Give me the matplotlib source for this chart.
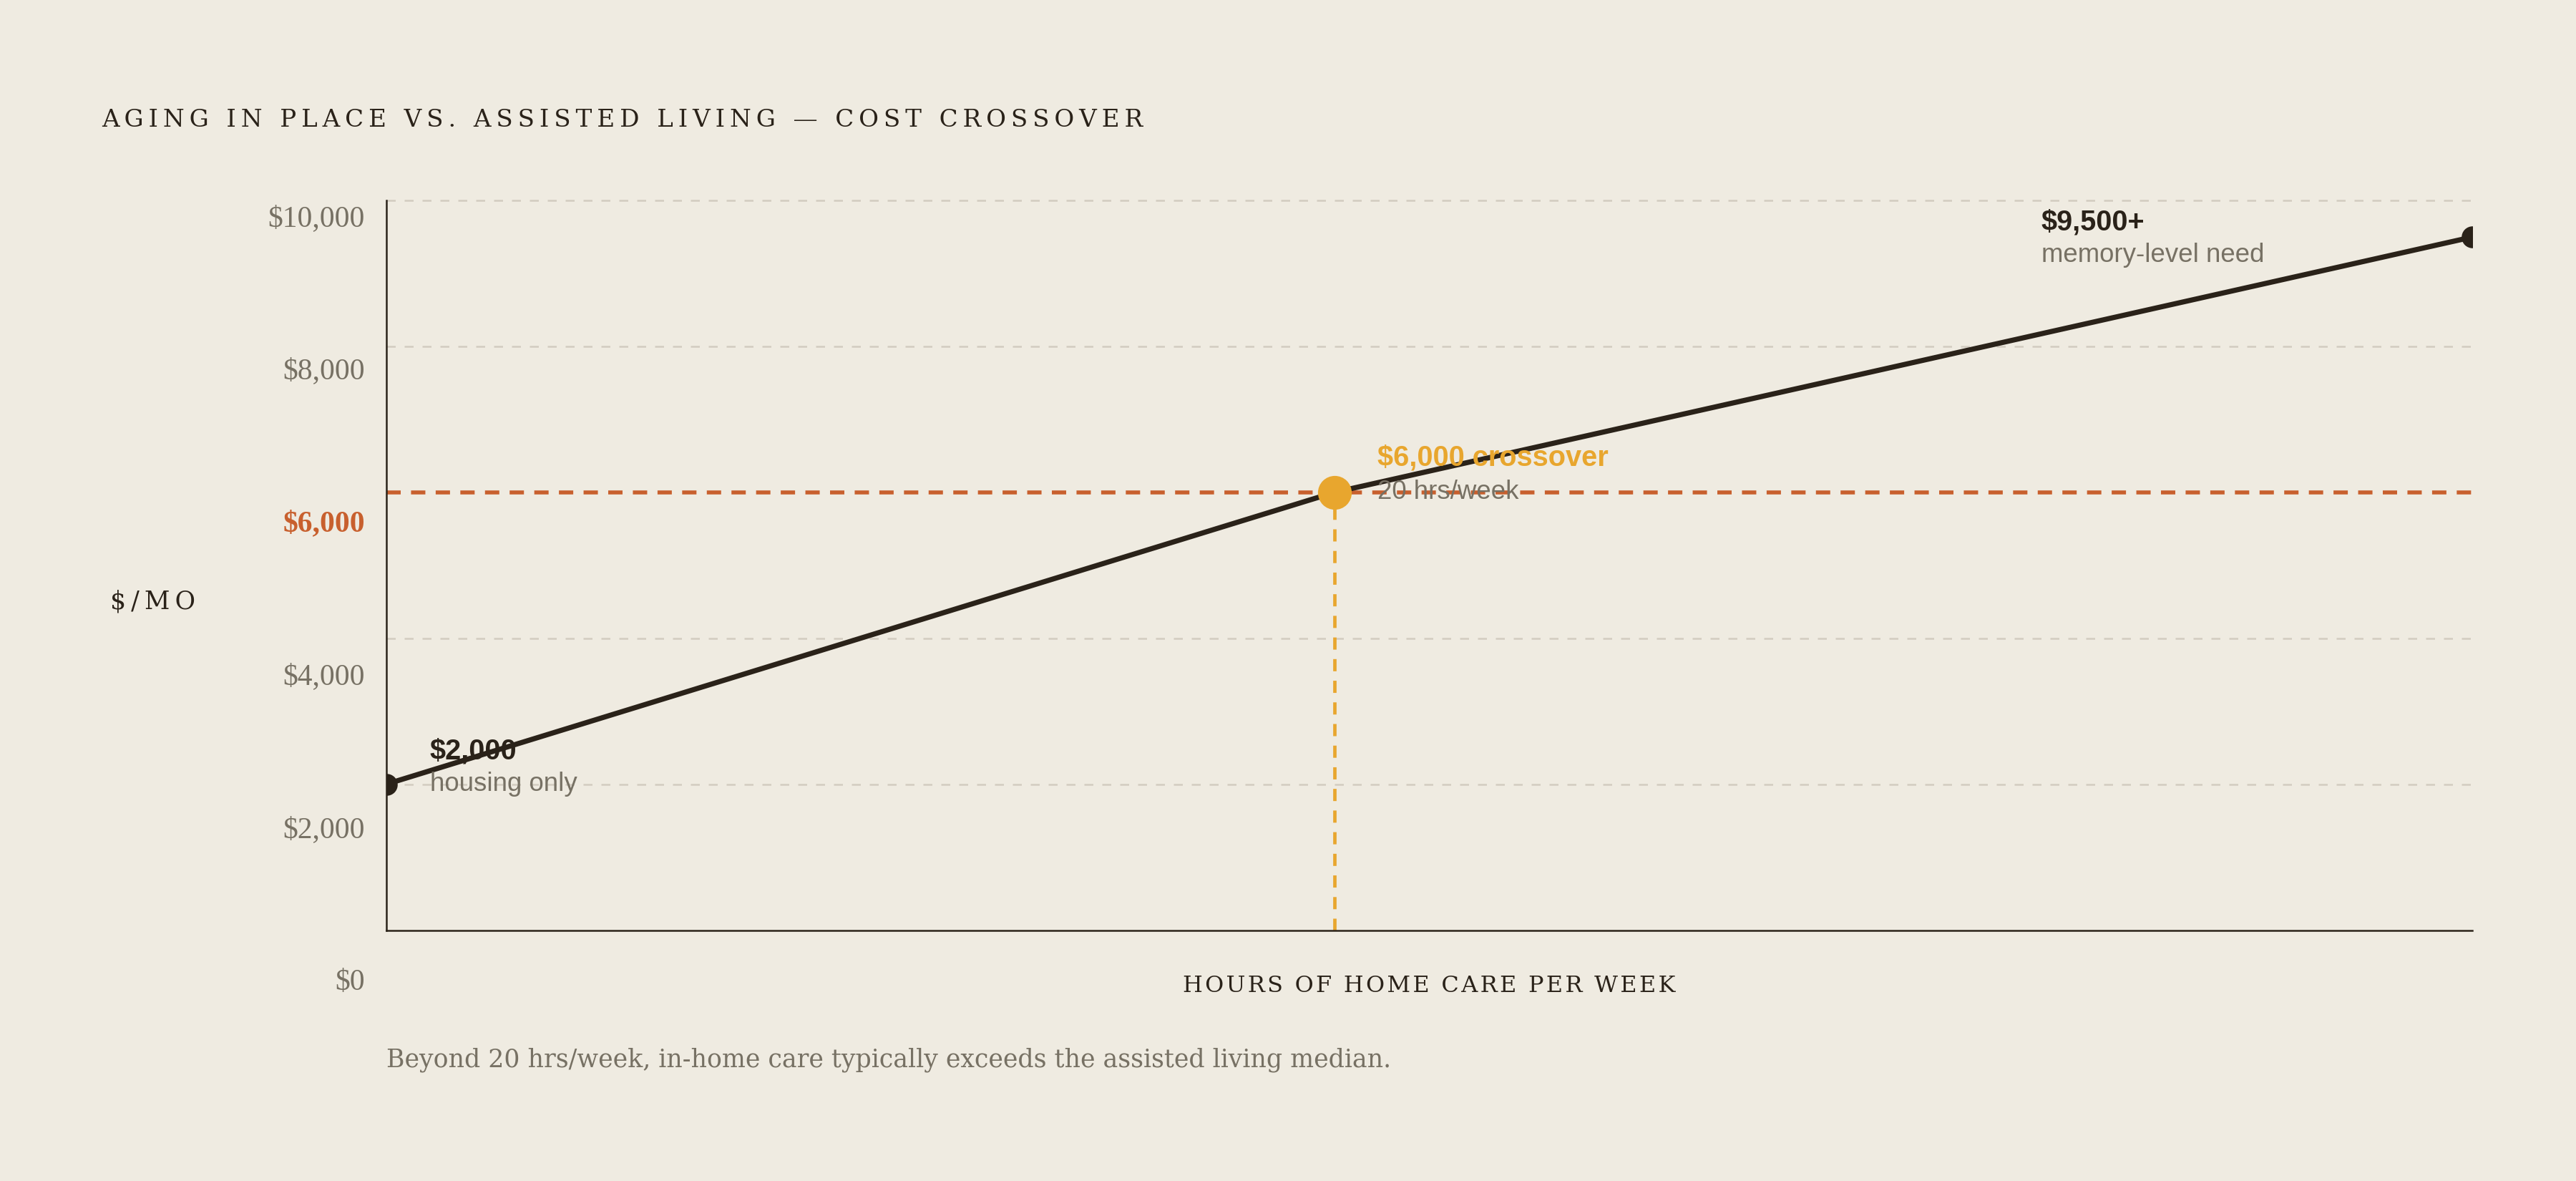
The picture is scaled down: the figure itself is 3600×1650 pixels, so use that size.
import matplotlib
matplotlib.use("Agg")
import matplotlib.pyplot as plt

# data
hours = [0, 20, 44]
monthly_cost = [2000, 6000, 9500]
y_ticks = [0, 2000, 4000, 6000, 8000, 10000]
y_tick_labels = ["$0", "$2,000", "$4,000", "$6,000", "$8,000", "$10,000"]
crossover_hours = 20
assisted_living_median = 6000
point_titles = ["$2,000", "$6,000 crossover", "$9,500+"]
point_notes = ["housing only", "20 hrs/week", "memory-level need"]

BG = "#efebe1"
INK = "#2a2219"
MUTED = "#777164"
RUST = "#c8602e"
GOLD = "#e8a62e"
GRID = "#d2ccc0"
SERIF = "DejaVu Serif"
SANS = "Liberation Sans"


def spaced(text, gap="\u2009"):
    """Fake letter spacing by putting thin spaces between characters."""
    return gap.join(text)


fig = plt.figure(figsize=(18, 8.25), dpi=200, facecolor=BG)
ax = fig.add_axes([0.1499, 0.2124, 0.8099, 0.6178], facecolor=BG)

ax.set_xlim(0, 44)
ax.set_ylim(0, 10000)

# gridlines (6000 is replaced by the median line)
for v in y_ticks[1:]:
    if v == assisted_living_median:
        continue
    ax.axhline(v, color=GRID, lw=0.9, dashes=(5, 5), zorder=1, clip_on=False)

ax.axhline(assisted_living_median, color=RUST, lw=2.0, dashes=(3.6, 2.6), zorder=2)
ax.plot([crossover_hours, crossover_hours], [0, assisted_living_median],
        color=GOLD, lw=1.7, dashes=(3.6, 2.8), zorder=2)

ax.plot(hours, monthly_cost, color=INK, lw=2.6, solid_capstyle="round", zorder=3)
ax.plot([hours[0], hours[-1]], [monthly_cost[0], monthly_cost[-1]], "o",
        color=INK, ms=10, zorder=4)
ax.plot([crossover_hours], [assisted_living_median], "o", color=GOLD, ms=16, zorder=5)

# point annotations
title_offsets = [(22, 16.5), (21.5, 17.5), (-217, 7.5)]
note_offsets = [(22, 0), (21.5, 0), (-217, -9)]
title_colors = [INK, GOLD, INK]
for i, (hx, cy) in enumerate(zip(hours, monthly_cost)):
    ax.annotate(point_titles[i], (hx, cy), xytext=title_offsets[i],
                textcoords="offset points", ha="left", va="center",
                family=SANS, weight="bold", fontsize=14.3,
                color=title_colors[i], zorder=6, annotation_clip=False)
    ax.annotate(point_notes[i], (hx, cy), xytext=note_offsets[i],
                textcoords="offset points", ha="left", va="center",
                family=SANS, fontsize=13.2, color=MUTED, zorder=6,
                annotation_clip=False)

# spines / ticks
for side in ("top", "right"):
    ax.spines[side].set_visible(False)
for side in ("left", "bottom"):
    ax.spines[side].set_color(INK)
    ax.spines[side].set_linewidth(0.9)
ax.set_xticks([])
ax.set_yticks([])

# y tick labels sit on their own even spacing, a bit below the gridlines
for v, lab in zip(y_ticks, y_tick_labels):
    frac = -0.072 + v * 1.0473e-4
    is_median = v == assisted_living_median
    ax.text(-0.0102, frac, lab, transform=ax.transAxes, ha="right", va="center",
            family="Liberation Serif", fontsize=15,
            color=RUST if is_median else MUTED,
            weight="bold" if is_median else "normal")

fig.text(93 / 1568, 1 - 366 / 718.6, spaced("$/MO"), ha="center", va="center",
         family=SERIF, fontsize=12.5, color=INK)
fig.text(870 / 1568, 1 - 600 / 718.6, spaced("HOURS OF HOME CARE PER WEEK", "\u200a"),
         ha="center", va="center", family=SERIF, fontsize=11.5, color=INK)
fig.text(62 / 1568, 1 - 73 / 718.6,
         spaced("AGING IN PLACE VS. ASSISTED LIVING \u2014 COST CROSSOVER"),
         ha="left", va="center", family=SERIF, fontsize=12.3, color=INK)
fig.text(235 / 1568, 1 - 645 / 718.6,
         "Beyond 20 hrs/week, in-home care typically exceeds the assisted living median.",
         ha="left", va="center", family=SERIF, fontsize=12.5, color=MUTED)

fig.savefig("out.png", dpi=200, facecolor=BG)
